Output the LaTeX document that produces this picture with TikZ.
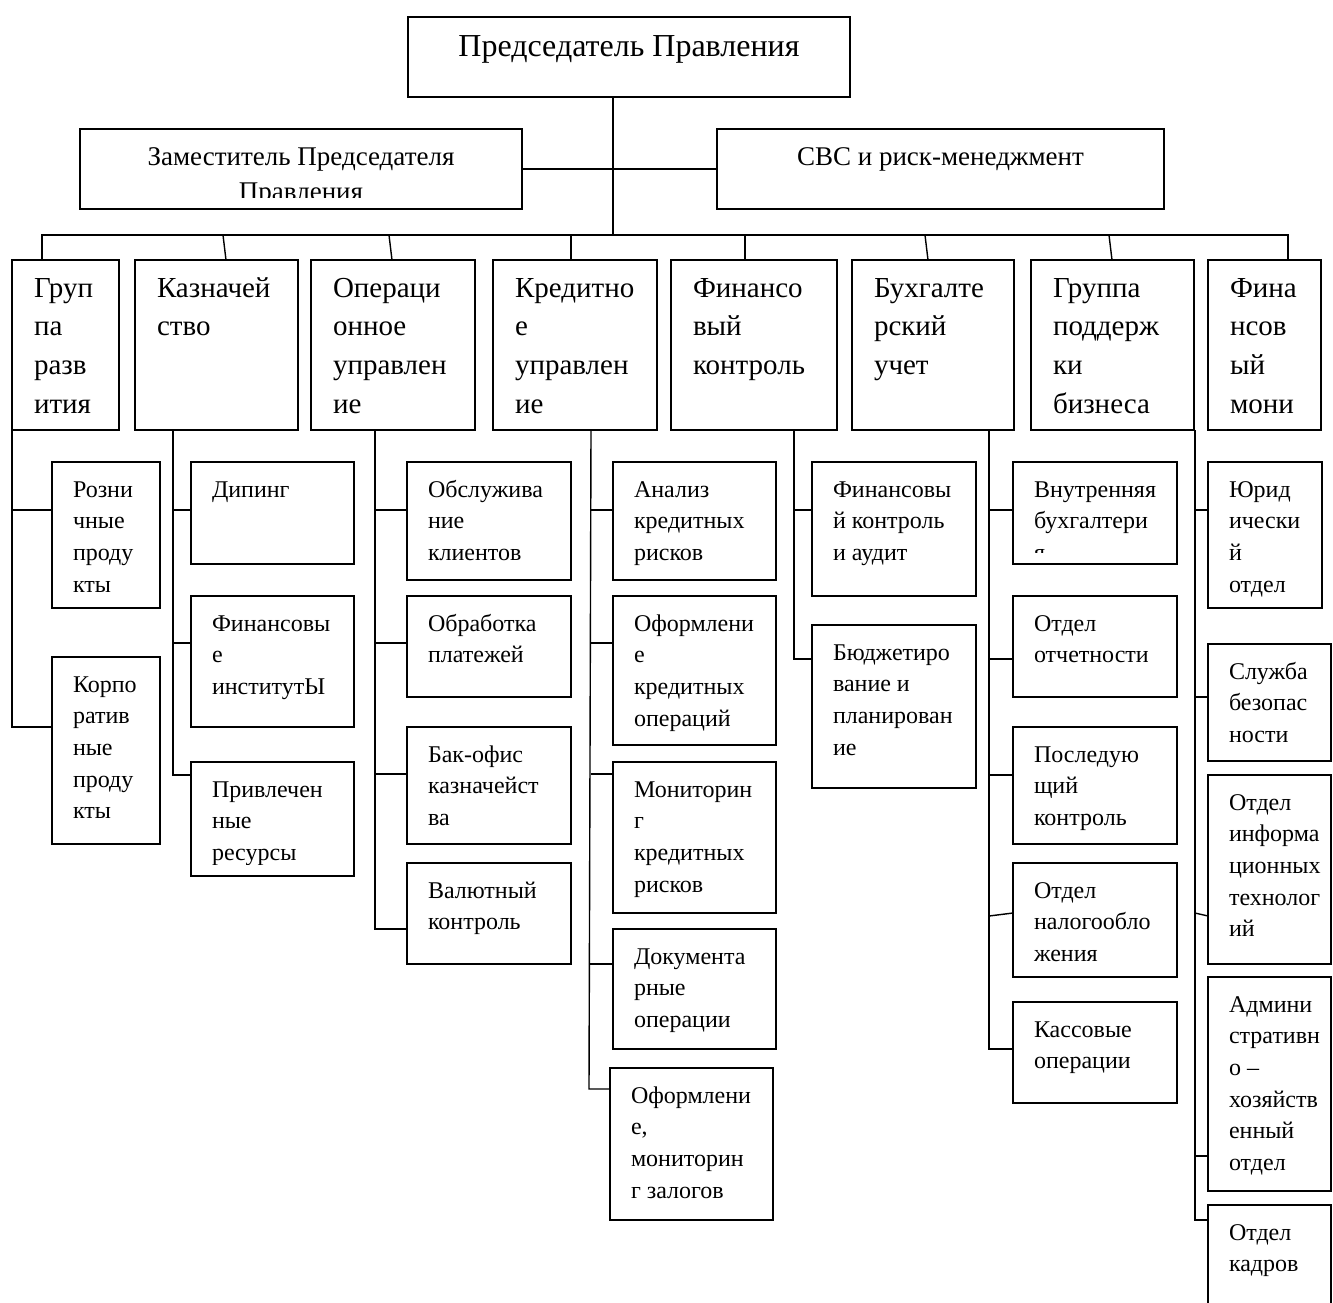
\documentclass[tikz,border=0pt]{standalone}
\usepackage{fontspec}
\setmainfont{Liberation Serif}
\tikzset{
  cell/.style={draw, line width=1.4pt, anchor=north west, inner sep=0pt, outer sep=0pt},
  head/.style n args={3}{path picture={
      \clip ([yshift=12pt]path picture bounding box.south west) rectangle (path picture bounding box.north east);
      \node[anchor=base, inner sep=0pt, text width=420pt, align=center, font=#3]
        at ([yshift=#2]path picture bounding box.north) {\spaceskip=.25em\relax #1};}},
  top/.style={head={#1}{-36pt}{\fontsize{27}{35}\selectfont}},
  dept/.style={path picture={
      \node[anchor=base west, inner sep=0pt, text width=220pt, align=left, font=\fontsize{29}{38.7}\selectfont]
        at ([xshift=22pt,yshift=-37pt]path picture bounding box.north west) {\spaceskip=.25em\relax #1};}},
  sub/.style={path picture={
      \clip ([yshift=12pt]path picture bounding box.south west) rectangle (path picture bounding box.north east);
      \node[anchor=base west, inner sep=0pt, text width=220pt, align=left, font=\fontsize{24}{31.7}\selectfont]
        at ([xshift=21pt,yshift=-35pt]path picture bounding box.north west) {\spaceskip=.25em\relax #1};}},
  link/.style={line width=1.4pt}
}

\begin{document}
\begin{tikzpicture}[x=1pt, y=-1pt]
\clip (0,0) rectangle (1333,1302);

% management
\node[cell, minimum width=442pt, minimum height=80pt,
      head={Председатель Правления}{-39pt}{\fontsize{32}{38}\selectfont}] (pred) at (408,17) {};
\node[cell, minimum width=442pt, minimum height=80pt,
      top={Заместитель Председателя\\Правления}] (zam) at (80,129) {};
\node[cell, minimum width=447pt, minimum height=80pt,
      top={СВС и риск-менеджмент}] (svc) at (717,129) {};

% departments
\node[cell, minimum width=107pt, minimum height=170pt, dept={Груп\\па\\разв\\ития}] (g1) at (12,260) {};
\node[cell, minimum width=163pt, minimum height=170pt, dept={Казначей\\ство}] (g2) at (135,260) {};
\node[cell, minimum width=164pt, minimum height=170pt, dept={Операци\\онное\\управлен\\ие}] (g3) at (311,260) {};
\node[cell, minimum width=164pt, minimum height=170pt, dept={Кредитно\\е\\управлен\\ие}] (g4) at (493,260) {};
\node[cell, minimum width=166pt, minimum height=170pt, dept={Финансо\\вый\\контроль}] (g5) at (671,260) {};
\node[cell, minimum width=162pt, minimum height=170pt, dept={Бухгалте\\рский\\учет}] (g6) at (852,260) {};
\node[cell, minimum width=163pt, minimum height=170pt, dept={Группа\\поддерж\\ки\\бизнеса}] (g7) at (1031,260) {};
\node[cell, minimum width=113pt, minimum height=170pt, dept={Фина\\нсов\\ый\\мони}] (g8) at (1208,260) {};

% units
\node[cell, minimum width=108pt, minimum height=146pt, sub={Розни\\чные\\проду\\кты}] (r1) at (52,462) {};
\node[cell, minimum width=108pt, minimum height=187pt, sub={Корпо\\ратив\\ные\\проду\\кты}] (r2) at (52,657) {};

\node[cell, minimum width=163pt, minimum height=102pt, sub={Дипинг}] (k1) at (191,462) {};
\node[cell, minimum width=163pt, minimum height=131pt, sub={Финансовы\\е\\институтЫ}] (k2) at (191,596) {};
\node[cell, minimum width=163pt, minimum height=114pt, sub={Привлечен\\ные\\ресурсы}] (k3) at (191,762) {};

\node[cell, minimum width=164pt, minimum height=118pt, sub={Обслужива\\ние\\клиентов}] (o1) at (407,462) {};
\node[cell, minimum width=164pt, minimum height=101pt, sub={Обработка\\платежей}] (o2) at (407,596) {};
\node[cell, minimum width=164pt, minimum height=117pt, sub={Бак-офис\\казначейст\\ва}] (o3) at (407,727) {};
\node[cell, minimum width=164pt, minimum height=101pt, sub={Валютный\\контроль}] (o4) at (407,863) {};

\node[cell, minimum width=163pt, minimum height=118pt, sub={Анализ\\кредитных\\рисков}] (c1) at (613,462) {};
\node[cell, minimum width=163pt, minimum height=149pt, sub={Оформлени\\е\\кредитных\\операций}] (c2) at (613,596) {};
\node[cell, minimum width=163pt, minimum height=151pt, sub={Мониторин\\г\\кредитных\\рисков}] (c3) at (613,762) {};
\node[cell, minimum width=163pt, minimum height=120pt, sub={Документа\\рные\\операции}] (c4) at (613,929) {};
\node[cell, minimum width=163pt, minimum height=152pt, sub={Оформлени\\е,\\мониторин\\г залогов}] (c5) at (610,1068) {};

\node[cell, minimum width=164pt, minimum height=134pt, sub={Финансовы\\й контроль\\и аудит}] (f1) at (812,462) {};
\node[cell, minimum width=164pt, minimum height=163pt, sub={Бюджетиро\\вание и\\планирован\\ие}] (f2) at (812,625) {};

\node[cell, minimum width=164pt, minimum height=102pt, sub={Внутренняя\\бухгалтери\\я}] (b1) at (1013,462) {};
\node[cell, minimum width=164pt, minimum height=101pt, sub={Отдел\\отчетности}] (b2) at (1013,596) {};
\node[cell, minimum width=164pt, minimum height=117pt, sub={Последую\\щий\\контроль}] (b3) at (1013,727) {};
\node[cell, minimum width=164pt, minimum height=114pt, sub={Отдел\\налогообло\\жения}] (b4) at (1013,863) {};
\node[cell, minimum width=164pt, minimum height=101pt, sub={Кассовые\\операции}] (b5) at (1013,1002) {};

\node[cell, minimum width=114pt, minimum height=146pt, sub={Юрид\\ически\\й\\отдел}] (s1) at (1208,462) {};
\node[cell, minimum width=123pt, minimum height=117pt, sub={Служба\\безопас\\ности}] (s2) at (1208,644) {};
\node[cell, minimum width=123pt, minimum height=189pt, sub={Отдел\\информа\\ционных\\технолог\\ий}] (s3) at (1208,775) {};
\node[cell, minimum width=123pt, minimum height=214pt, sub={Админи\\стративн\\о –\\хозяйств\\енный\\отдел}] (s4) at (1208,977) {};
\node[cell, minimum width=123pt, minimum height=120pt, sub={Отдел\\кадров}] (s5) at (1208,1205) {};

% upper links
\coordinate (hub) at (613,235);
\draw[link] (pred.south -| hub) -- (hub);
\draw[link] (zam.east) -- (svc.west);
\draw[link] (g1.north -| 42,0) -- ++(0,-25) -| (g8.north -| 1288,0);
\draw[link] (g2.north -| 226,0) -- (hub -| 223,0);
\draw[link] (g3.north -| 392,0) -- (hub -| 389,0);
\draw[link] (g4.north -| 571,0) -- (hub -| 571,0);
\draw[link] (g5.north -| 745,0) -- (hub -| 745,0);
\draw[link] (g6.north -| 928,0) -- (hub -| 925,0);
\draw[link] (g7.north -| 1112,0) -- (hub -| 1109,0);

% spines
\coordinate (t1) at (g1.south west);
\coordinate (t2) at ([xshift=38pt]g2.south west);
\coordinate (t3) at ([xshift=64pt]g3.south west);
\coordinate (t4) at ([xshift=98pt]g4.south west);
\coordinate (t5) at ([xshift=123pt]g5.south west);
\coordinate (t6) at ([xshift=137pt]g6.south west);
\coordinate (t7) at ([xshift=1pt]g7.south east);

\draw[link] (t1) |- (r2.west |- 0,727);
\draw[link] (t1 |- 0,510) -- (r1.west |- 0,510);

\draw[link] (t2) |- (k3.west |- 0,775);
\draw[link] (t2 |- 0,510) -- (k1.west |- 0,510);
\draw[link] (t2 |- 0,643) -- (k2.west |- 0,643);

\draw[link] (t3) |- (o4.west |- 0,929);
\draw[link] (t3 |- 0,510) -- (o1.west |- 0,510);
\draw[link] (t3 |- 0,643) -- (o2.west |- 0,643);
\draw[link] (t3 |- 0,774) -- (o3.west |- 0,774);

\draw[link] (t4) -- ([xshift=-2pt]t4 |- 0,1089) -- (c5.west |- 0,1089);
\draw[link] (t4 |- 0,510) -- (c1.west |- 0,510);
\draw[link] (t4 |- 0,643) -- (c2.west |- 0,643);
\draw[link] (t4 |- 0,774) -- (c3.west |- 0,774);
\draw[link] ([xshift=-1pt]t4 |- 0,964) -- (c4.west |- 0,964);

\draw[link] (t5) |- (f2.west |- 0,659);
\draw[link] (t5 |- 0,510) -- (f1.west |- 0,510);

\draw[link] (t6) |- (b5.west |- 0,1049);
\draw[link] (t6 |- 0,510) -- (b1.west |- 0,510);
\draw[link] (t6 |- 0,659) -- (b2.west |- 0,659);
\draw[link] (t6 |- 0,775) -- (b3.west |- 0,775);
\draw[link] (t6 |- 0,916) -- (b4.west |- 0,913);

\draw[link] (t7) |- (s5.west |- 0,1220);
\draw[link] (t7 |- 0,510) -- (s1.west |- 0,510);
\draw[link] (t7 |- 0,697) -- (s2.west |- 0,697);
\draw[link] (t7 |- 0,913) -- (s3.west |- 0,916);
\draw[link] (t7 |- 0,1156) -- (s4.west |- 0,1156);
\end{tikzpicture}
\end{document}
